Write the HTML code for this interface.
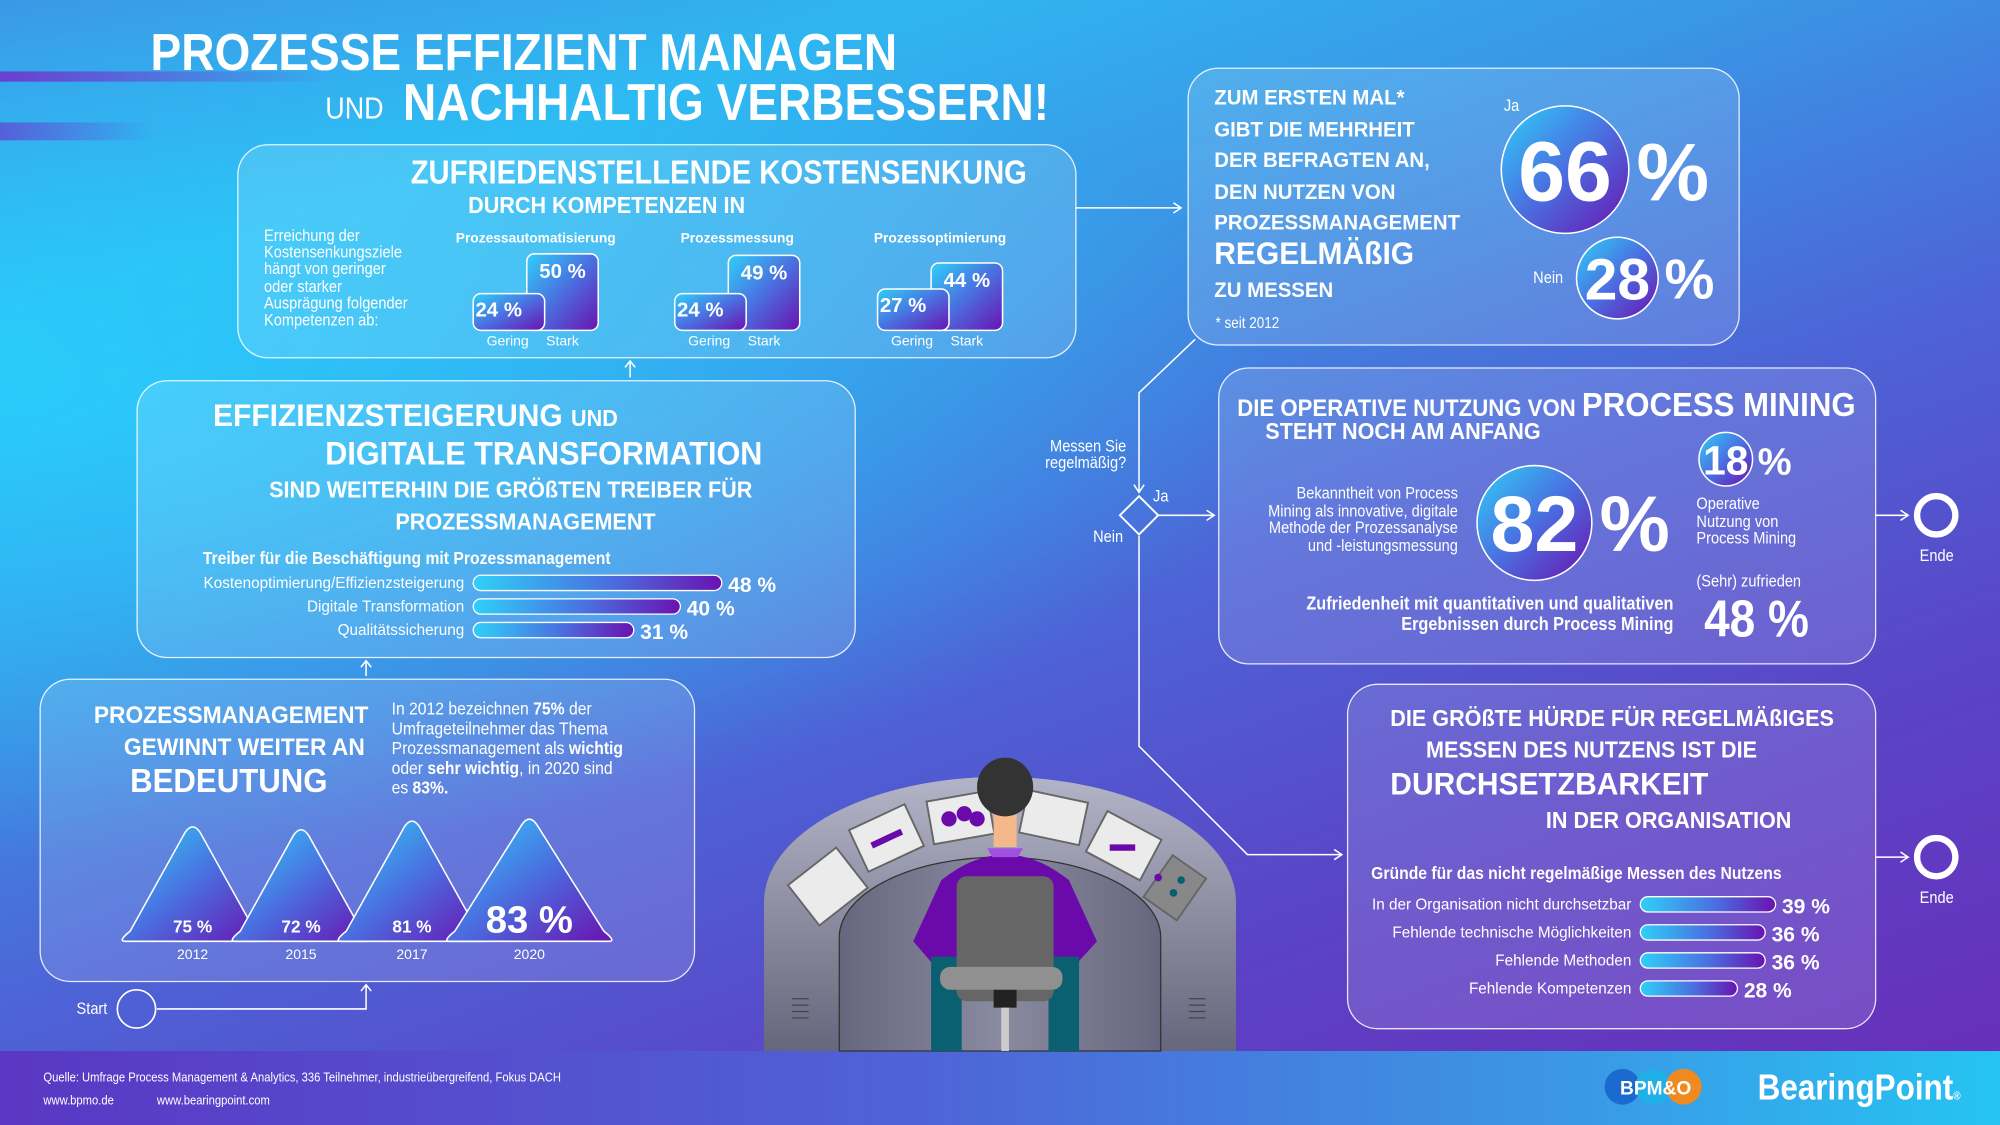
<!DOCTYPE html>
<html><head><meta charset="utf-8">
<style>
html,body{margin:0;padding:0;width:2000px;height:1125px;overflow:hidden;}
#root{position:absolute;left:0;top:0;width:1568px;height:882px;transform:scale(1.27551);transform-origin:0 0;overflow:hidden;
background:linear-gradient(160deg,#3e8fe2 0%,#2fb6f0 18%,#3a95e6 35%,#4d63d6 55%,#5a44c6 75%,#6a2bb8 100%);
font-family:"Liberation Sans Narrow","Liberation Sans",sans-serif;color:#fff;}
.t{position:absolute;white-space:nowrap;transform:scaleX(.88);transform-origin:0 0;}
.t.w{transform:scaleX(.94);}
.t.r{transform-origin:100% 0;text-align:right;}
.b{font-weight:bold;}
.box{position:absolute;border:1.5px solid rgba(255,255,255,.85);border-radius:24px;background:rgba(255,255,255,.13);}
svg{position:absolute;left:0;top:0;}
</style></head><body>
<div id="root">
<div style="position:absolute;left:0;top:0;width:1568px;height:882px;background:radial-gradient(ellipse at 0% 35%,rgba(40,210,255,.8),rgba(40,210,255,0) 45%);"></div>
<div style="position:absolute;left:0;top:56px;width:260px;height:8px;background:linear-gradient(90deg,#6a3fd0,rgba(100,80,220,0));"></div>
<div style="position:absolute;left:0;top:96px;width:120px;height:14px;background:linear-gradient(90deg,#5560d8,rgba(80,100,220,0));"></div>

<div class="t b" style="left:118px;top:18px;font-size:41px;">PROZESSE EFFIZIENT MANAGEN</div>
<div class="t" style="left:255px;top:72px;font-size:24px;">UND</div>
<div class="t b" style="left:316px;top:57px;font-size:41px;">NACHHALTIG VERBESSERN!</div>

<!-- Box 1 -->
<div class="box" style="left:186px;top:113px;width:656px;height:166px;"></div>
<div class="t b" style="left:322px;top:120px;font-size:26px;">ZUFRIEDENSTELLENDE KOSTENSENKUNG</div>
<div class="t b w" style="left:367px;top:151px;font-size:18px;">DURCH KOMPETENZEN IN</div>
<div class="t" style="left:207px;top:178px;font-size:13px;line-height:13.2px;">Erreichung der<br>Kostensenkungsziele<br>hängt von geringer<br>oder starker<br>Ausprägung folgender<br>Kompetenzen ab:</div>

<!-- Box 2 -->
<div class="box" style="left:107px;top:298px;width:562px;height:216px;"></div>
<div class="t b w" style="left:167px;top:312px;font-size:25px;">EFFIZIENZSTEIGERUNG <span style="font-size:18px">UND</span></div>
<div class="t b w" style="left:255px;top:342px;font-size:25.5px;">DIGITALE TRANSFORMATION</div>
<div class="t b w" style="left:211px;top:374px;font-size:18px;">SIND WEITERHIN DIE GRÖßTEN TREIBER FÜR</div>
<div class="t b w" style="left:310px;top:399px;font-size:18px;">PROZESSMANAGEMENT</div>
<div class="t b" style="left:159px;top:429px;font-size:14px;">Treiber für die Beschäftigung mit Prozessmanagement</div>

<!-- Box 3 -->
<div class="box" style="left:31px;top:532px;width:512px;height:236px;"></div>
<div class="t b r w" style="left:60px;top:549px;font-size:19px;line-height:25px;width:226px;">PROZESSMANAGEMENT<br>GEWINNT WEITER AN</div>
<div class="t b w" style="left:102px;top:597px;font-size:26px;">BEDEUTUNG</div>
<div class="t" style="left:307px;top:548px;font-size:14px;line-height:15.5px;">In 2012 bezeichnen <b>75%</b> der<br>Umfrageteilnehmer das Thema<br>Prozessmanagement als <b>wichtig</b><br>oder <b>sehr wichtig</b>, in 2020 sind<br>es <b>83%.</b></div>
<div class="t" style="left:60px;top:783px;font-size:13px;">Start</div>

<!-- Box 4 -->
<div class="box" style="left:931px;top:53px;width:431px;height:216px;"></div>
<div class="t b w" style="left:952px;top:65px;font-size:17px;line-height:24.5px;">ZUM ERSTEN MAL*<br>GIBT DIE MEHRHEIT<br>DER BEFRAGTEN AN,<br>DEN NUTZEN VON<br>PROZESSMANAGEMENT</div>
<div class="t b w" style="left:952px;top:185px;font-size:25px;">REGELMÄßIG</div>
<div class="t b w" style="left:952px;top:218px;font-size:17px;">ZU MESSEN</div>
<div class="t" style="left:953px;top:246px;font-size:12px;">* seit 2012</div>
<div class="t" style="left:1179px;top:75px;font-size:13px;">Ja</div>
<div class="t" style="left:1202px;top:210px;font-size:13px;">Nein</div>

<!-- Box 5 -->
<div class="box" style="left:955px;top:288px;width:514px;height:231px;"></div>
<div class="t b w" style="left:970px;top:302px;font-size:18.5px;">DIE OPERATIVE NUTZUNG VON <span style="font-size:26px">PROCESS MINING</span></div>
<div class="t b w" style="left:992px;top:328px;font-size:18px;">STEHT NOCH AM ANFANG</div>
<div class="t r" style="left:943px;top:380px;width:200px;font-size:13px;line-height:13.5px;">Bekanntheit von Process<br>Mining als innovative, digitale<br>Methode der Prozessanalyse<br>und -leistungsmessung</div>
<div class="t" style="left:1330px;top:388px;font-size:13px;line-height:13.5px;">Operative<br>Nutzung von<br>Process Mining</div>
<div class="t b r" style="left:962px;top:466px;font-size:14.5px;line-height:16px;width:350px;">Zufriedenheit mit quantitativen und qualitativen<br>Ergebnissen durch Process Mining</div>
<div class="t" style="left:1330px;top:448px;font-size:13px;">(Sehr) zufrieden</div>
<div class="t b" style="left:1336px;top:462px;font-size:41px;">48 %</div>

<!-- Box 6 -->
<div class="box" style="left:1056px;top:536px;width:413px;height:269px;"></div>
<div class="t b w" style="left:1090px;top:553px;font-size:18px;">DIE GRÖßTE HÜRDE FÜR REGELMÄßIGES</div>
<div class="t b w" style="left:1118px;top:578px;font-size:18px;">MESSEN DES NUTZENS IST DIE</div>
<div class="t b w" style="left:1090px;top:601px;font-size:25px;">DURCHSETZBARKEIT</div>
<div class="t b w" style="left:1212px;top:633px;font-size:18px;">IN DER ORGANISATION</div>
<div class="t b" style="left:1075px;top:676px;font-size:14px;">Gründe für das nicht regelmäßige Messen des Nutzens</div>

<div class="t r" style="left:803px;top:343px;font-size:13px;line-height:13px;width:80px;">Messen Sie<br>regelmäßig?</div>
<div class="t" style="left:904px;top:381px;font-size:13px;">Ja</div>
<div class="t" style="left:857px;top:413px;font-size:13px;">Nein</div>
<div class="t" style="left:1505px;top:428px;font-size:13px;">Ende</div>
<div class="t" style="left:1505px;top:696px;font-size:13px;">Ende</div>

<!-- footer -->
<div style="position:absolute;left:0;top:824px;width:1568px;height:58px;background:linear-gradient(90deg,#5a37c4 0%,#4f62d6 45%,#3a9ae6 80%,#25c4f2 100%);"></div>
<div class="t" style="left:34px;top:840px;font-size:10px;">Quelle: Umfrage Process Management &amp; Analytics, 336 Teilnehmer, industrieübergreifend, Fokus DACH</div>
<div class="t" style="left:34px;top:858px;font-size:10px;">www.bpmo.de</div>
<div class="t" style="left:123px;top:858px;font-size:10px;">www.bearingpoint.com</div>
<div class="t b" style="left:1378px;top:837px;font-size:28px;">BearingPoint<span style="font-size:9px">®</span></div>

<svg id="chart" width="1568" height="882" viewBox="0 0 1568 882">
<defs>
<linearGradient id="gBar" x1="0" x2="1" y1="0" y2="0"><stop offset="0" stop-color="#2fd0f8"/><stop offset="0.55" stop-color="#4a6fe0"/><stop offset="1" stop-color="#6a12b0"/></linearGradient>
<linearGradient id="gCol" x1="0" x2="1" y1="0" y2="1"><stop offset="0" stop-color="#2fd0f8"/><stop offset="0.5" stop-color="#4a6fe0"/><stop offset="1" stop-color="#6a12b0"/></linearGradient>
<linearGradient id="gTri" x1="0" x2="1" y1="0" y2="1"><stop offset="0" stop-color="#2fd0f8"/><stop offset="0.5" stop-color="#4a6fe0"/><stop offset="1" stop-color="#6a12b0"/></linearGradient>
<linearGradient id="gArch" x1="0" x2="0" y1="0" y2="1"><stop offset="0" stop-color="#b4b4c8"/><stop offset="1" stop-color="#66667c"/></linearGradient>
<linearGradient id="gInner" x1="0" x2="1" y1="0" y2="0"><stop offset="0" stop-color="#66667e"/><stop offset="0.5" stop-color="#8a8aa0"/><stop offset="1" stop-color="#66667e"/></linearGradient>
</defs>
<g stroke="#fff" stroke-width="1.2" fill="none">
<path d="M843 163 H926 M920 159 L926 163 L920 167"/>
<path d="M494 296 V283 M490 288 L494 283 L498 288"/>
<path d="M287 530 V518 M283 523 L287 518 L291 523"/>
<path d="M123 791 H287 V772 M283 777 L287 772 L291 777"/>
<path d="M893 385 V308 L937 266"/>
<path d="M889 380 L893 386 L897 380"/>
<path d="M908 404 H952 M946 400 L952 404 L946 408"/>
<path d="M893 420 V585 L978 670 H1052 M1046 666 L1052 670 L1046 674"/>
<path d="M1470 404 H1496 M1490 400 L1496 404 L1490 408"/>
<path d="M1470 672 H1496 M1490 668 L1496 672 L1490 676"/>
<path d="M893 389 L908 404 L893 419 L878 404 Z" stroke-width="1.5"/>
</g>
<circle cx="1518" cy="404" r="15" stroke="#fff" stroke-width="5" fill="none"/>
<circle cx="1518" cy="672" r="15" stroke="#fff" stroke-width="5" fill="none"/>
<circle cx="107" cy="791" r="15" stroke="#fff" stroke-width="1.3" fill="none"/>
<circle cx="1227" cy="133" r="50" fill="url(#gCol)" stroke="#fff" stroke-width="1.2"/>
<text x="1227" y="157" font-size="66" font-weight="bold" fill="#fff" text-anchor="middle" font-family="Liberation Sans, sans-serif">66</text>
<text x="1283" y="157" font-size="64" font-weight="bold" fill="#fff" font-family="Liberation Sans, sans-serif">%</text>
<circle cx="1268" cy="218" r="32" fill="url(#gCol)" stroke="#fff" stroke-width="1.2"/>
<text x="1268" y="235" font-size="46" font-weight="bold" fill="#fff" text-anchor="middle" font-family="Liberation Sans, sans-serif">28</text>
<text x="1305" y="234" font-size="44" font-weight="bold" fill="#fff" font-family="Liberation Sans, sans-serif">%</text>
<circle cx="1203" cy="410" r="45" fill="url(#gCol)" stroke="#fff" stroke-width="1.2"/>
<text x="1203" y="432" font-size="62" font-weight="bold" fill="#fff" text-anchor="middle" font-family="Liberation Sans, sans-serif">82</text>
<text x="1254" y="432" font-size="62" font-weight="bold" fill="#fff" font-family="Liberation Sans, sans-serif">%</text>
<circle cx="1353" cy="360" r="21" fill="url(#gCol)" stroke="#fff" stroke-width="1.2"/>
<text x="1353" y="372" font-size="32" font-weight="bold" fill="#fff" text-anchor="middle" font-family="Liberation Sans, sans-serif">18</text>
<text x="1378" y="372" font-size="30" font-weight="bold" fill="#fff" font-family="Liberation Sans, sans-serif">%</text>
<g>
<circle cx="1272" cy="852" r="14" fill="#1a6ad0"/><circle cx="1296" cy="852" r="14" fill="#20b0e8"/><circle cx="1320" cy="852" r="14" fill="#f08a20"/>
<text x="1298" y="858" font-size="15" font-weight="bold" fill="#fff" text-anchor="middle" font-family="Liberation Sans, sans-serif">BPM&amp;O</text>
</g>
<g>
<path d="M599 824 V707 A185 98 0 0 1 969 707 V824 Z" fill="url(#gArch)"/>
<path d="M658 824 V735 A126 63 0 0 1 910 735 V824 Z" fill="url(#gInner)" stroke="#333" stroke-width="1"/>
<g fill="#ebebeb" stroke="#666" stroke-width="1.5">
<rect x="-24" y="-20" width="48" height="40" transform="translate(649,695) rotate(-38)"/>
<rect x="-24" y="-18" width="48" height="36" transform="translate(695,657) rotate(-25)"/>
<rect x="-24" y="-17" width="48" height="34" transform="translate(753,641) rotate(-10)"/>
<rect x="-24" y="-17" width="48" height="34" transform="translate(826,641) rotate(12)"/>
<rect x="-24" y="-18" width="48" height="36" transform="translate(881,663) rotate(28)"/>
<rect x="-16" y="-20" width="32" height="40" fill="#888" transform="translate(921,696) rotate(35)"/>
</g>
<g fill="#6a0aaa"><rect x="682" y="655" width="26" height="5" transform="rotate(-25 695 657)"/><circle cx="744" cy="642" r="6"/><circle cx="756" cy="638" r="6"/><circle cx="766" cy="642" r="6"/><rect x="870" y="662" width="20" height="5"/></g>
<circle cx="908" cy="688" r="3" fill="#6a0aaa"/><circle cx="920" cy="700" r="3" fill="#0a6070"/><circle cx="926" cy="690" r="3" fill="#0a6070"/>
<path d="M738 690 Q788 650 838 690 L860 738 L840 760 H735 L716 738 Z" fill="#6a0aaa"/>
<path d="M774 665 H802 L798 672 H778Z" fill="#a050e0"/>
<path d="M779 638 H797 V664 H779Z" fill="#f5b88a"/>
<ellipse cx="788" cy="617" rx="22" ry="23" fill="#333"/>
<path d="M730 750 H846 V824 H822 V780 H754 V824 H730Z" fill="#0a6070"/>
<rect x="750" y="687" width="76" height="98" rx="8" fill="#666"/>
<rect x="737" y="758" width="96" height="18" rx="8" fill="#909090"/>
<rect x="779" y="776" width="18" height="14" fill="#222"/>
<rect x="785" y="790" width="6" height="34" fill="#ccc"/>
<g stroke="#444" stroke-width="1"><path d="M621 783 H634 M621 788 H634 M621 793 H634 M621 798 H634 M932 783 H945 M932 788 H945 M932 793 H945 M932 798 H945"/></g>
</g>
<g id="charts"></g>
</svg>
</div>
<script>
// Box 1: cost reduction column pairs
const costCategories = ["Prozessautomatisierung","Prozessmessung","Prozessoptimierung"];
const costGering = [24,24,27];
const costStark = [50,49,44];
// Box 2: drivers
const driverLabels = ["Kostenoptimierung/Effizienzsteigerung","Digitale Transformation","Qualitätssicherung"];
const driverValues = [48,40,31];
// Box 3: importance over years
const importanceYears = ["2012","2015","2017","2020"];
const importanceValues = [75,72,81,83];
// Box 6: obstacles
const obstacleLabels = ["In der Organisation nicht durchsetzbar","Fehlende technische Möglichkeiten","Fehlende Methoden","Fehlende Kompetenzen"];
const obstacleValues = [39,36,36,28];

const NS="http://www.w3.org/2000/svg";
const G=document.getElementById('charts');
const FF="Liberation Sans, sans-serif";
function mk(tag,attrs,parent){const e=document.createElementNS(NS,tag);for(const k in attrs)e.setAttribute(k,attrs[k]);(parent||G).appendChild(e);return e;}
function txt(x,y,s,size,bold,anchor,parent){const e=mk('text',{x:x,y:y,'font-size':size,'font-weight':bold?'bold':'normal',fill:'#fff','text-anchor':anchor||'start','font-family':FF},parent);e.textContent=s;return e;}

const colBase=259, colScale=1.2;
function colY(v){return colBase-v*colScale;}
const groupX=[371,529,688];
costCategories.forEach((c,i)=>{
  const gx=groupX[i];
  const g=mk('g',{});
  
  
  const t=txt(gx+49,190,c,10.8,true,'middle',g);
  
  
  const s=mk('rect',{x:gx+42,y:colY(costStark[i]),width:56,height:costStark[i]*colScale,rx:6,fill:'url(#gCol)',stroke:'#fff','stroke-width':1.2},g);
  
  
  const r=mk('rect',{x:gx,y:colY(costGering[i]),width:56,height:costGering[i]*colScale,rx:6,fill:'url(#gCol)',stroke:'#fff','stroke-width':1.2},g);
  
  
  const v1=txt(gx+70,colY(costStark[i])+19,costStark[i]+' %',16,true,'middle',g);
  
  
  const v2=txt(gx+20,colY(costGering[i])+18,costGering[i]+' %',16,true,'middle',g);
  
  
  const l1=txt(gx+27,271,'Gering',11,false,'middle',g);
  
  
  const l2=txt(gx+70,271,'Stark',11,false,'middle',g);
  
  
});

function hbars(labels,values,x0,y0,step,scale,labelSize,valSize,prefix){
  labels.forEach((l,i)=>{
    const y=y0+i*step;
    const w=values[i]*scale;
    const lt=txt(x0-7,y+4,l,labelSize,false,'end');
    
    
    const r=mk('rect',{x:x0,y:y-6,width:w,height:12,rx:6,fill:'url(#gBar)',stroke:'#fff','stroke-width':1});
    
    
    const vt=txt(x0+w+5,y+7,values[i]+' %',valSize,true,'start');
    
    
  });
}
hbars(driverLabels,driverValues,371,457,18.5,4.06,12,16.5,'driver');
hbars(obstacleLabels,obstacleValues,1286,709,22,2.72,12,16.5,'obstacle');

const triBase=738, triX=[151,236,323,415];
importanceYears.forEach((yr,i)=>{
  const v=importanceValues[i];
  const h=35+0.75*v;
  const cx=triX[i], half=h*0.58+(i===3?6:0);
  const p=mk('path',{d:`M${cx-half} ${triBase} Q${cx-half-6} ${triBase} ${cx-half+4} ${triBase-8} L${cx-6} ${triBase-h+6} Q${cx} ${triBase-h-3} ${cx+6} ${triBase-h+6} L${cx+half-4} ${triBase-8} Q${cx+half+6} ${triBase} ${cx+half} ${triBase} Z`,fill:'url(#gTri)',stroke:'#fff','stroke-width':1.2});
  
  
  const vt=txt(cx,triBase-7,v+' %',i===3?30:13.5,true,'middle');
  
  
  const yt=txt(cx,752,yr,11,false,'middle');
  
  
});
</script>
</body></html>
